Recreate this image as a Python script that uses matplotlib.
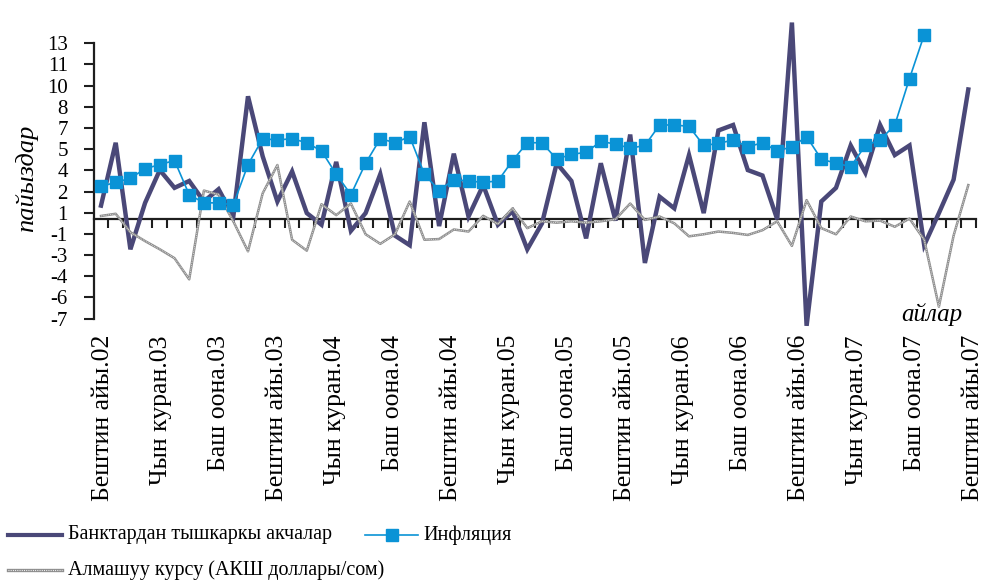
import numpy as np
import matplotlib
matplotlib.use("Agg")
import matplotlib.pyplot as plt
import matplotlib.transforms as mtransforms
from matplotlib.lines import Line2D

plt.rcParams['font.family'] = ['Liberation Serif', 'DejaVu Serif']

# labels on the month axis (every 4th month, Dec 2002 .. Dec 2007)
month_labels = [
    "Бештин айы.02", "Чын куран.03", "Баш оона.03", "Бештин айы.03",
    "Чын куран.04", "Баш оона.04", "Бештин айы.04", "Чын куран.05",
    "Баш оона.05", "Бештин айы.05", "Чын куран.06", "Баш оона.06",
    "Бештин айы.06", "Чын куран.07", "Баш оона.07", "Бештин айы.07",
]

# y axis as printed in the source (odd rounding kept)
ytick_vals = 0.48 + 1.55 * np.arange(-5, 9)
ytick_labels = ["-7", "-6", "-4", "-3", "-1", "1", "2", "4", "5", "7",
                "8", "10", "11", "13"]

# monthly values, %
money_outside_banks = [
    1.0, 5.6, -2.2, 1.2, 3.6, 2.3, 2.8, 1.3, 2.2, 0.2, 9.0, 4.6,
    1.3, 3.5, 0.45, -0.4, 4.2, -0.85, 0.45, 3.3, -1.2, -1.9, 7.1, -0.5,
    4.8, 0.2, 2.5, -0.4, 0.6, -2.2, -0.3, 4.1, 2.8, -1.4, 4.1, -0.1,
    6.2, -3.2, 1.65, 0.8, 4.7, 0.45, 6.5, 6.9, 3.6, 3.2, 0.0, 14.4,
    -7.8, 1.3, 2.3, 5.4, 3.4, 6.9, 4.7, 5.4, -1.9, 0.45, 2.9, 9.5,
]
inflation = [
    2.4, 2.7, 3.0, 3.7, 4.0, 4.3, 1.8, 1.2, 1.2, 1.05, 4.0, 5.9,
    5.8, 5.9, 5.6, 5.0, 3.3, 1.8, 4.1, 5.9, 5.6, 6.05, 3.3, 2.1,
    2.9, 2.8, 2.7, 2.8, 4.3, 5.6, 5.6, 4.4, 4.75, 4.9, 5.7, 5.5,
    5.2, 5.4, 6.9, 6.9, 6.8, 5.4, 5.55, 5.8, 5.3, 5.6, 5.0, 5.3,
    6.05, 4.4, 4.1, 3.85, 5.4, 5.8, 6.9, 10.3, 13.5,
]
exchange_rate = [
    0.24, 0.4, -0.95, -1.6, -2.2, -2.85, -4.4, 2.1, 1.8, -0.15, -2.35, 1.9,
    3.97, -1.5, -2.3, 1.1, 0.3, 1.15, -1.1, -1.8, -1.1, 1.3, -1.5, -1.45,
    -0.75, -0.9, 0.25, -0.35, 0.8, -0.65, -0.15, -0.25, -0.15, -0.25, -0.15, 0.0,
    1.15, -0.05, 0.2, -0.3, -1.25, -1.1, -0.9, -1.0, -1.15, -0.8, -0.15, -1.95,
    1.4, -0.65, -1.1, 0.2, -0.15, -0.1, -0.55, 0.05, -1.5, -6.4, -1.2, 2.5,
]

labels = ["Банктардан тышкаркы акчалар", "Инфляция",
          "Алмашуу курсу (АКШ доллары/сом)"]

DARK = '#4a4878'
BLUE = '#0a93d6'
GREY = '#8e8e8e'
AXC = '#1e1e1e'

W, H = 983, 581
fig = plt.figure(figsize=(W / 100, H / 100), dpi=100)
ax = fig.add_axes([93.65 / W, 1 - 340 / H, 882 / W, 340 / H])
ax.patch.set_alpha(0)

n = len(money_outside_banks)
x = np.arange(n)

ax.plot(x, money_outside_banks, color=DARK, lw=3.2,
        solid_joinstyle='miter', zorder=3)
ax.plot(x, exchange_rate, color=GREY, lw=1.8, zorder=4)
ax.plot(x, exchange_rate, color='white', lw=0.6, dashes=(0.8, 1.4), zorder=4)
ax.plot(np.arange(len(inflation)), inflation, color=BLUE, lw=1.2,
        marker='s', ms=8, mec=BLUE, mfc=BLUE, zorder=5)

ax.set_xlim(-0.5, n - 0.5)
ax.set_ylim(-8.84, 16.05)

for s in ('top', 'right'):
    ax.spines[s].set_visible(False)
ax.spines['bottom'].set_position(('data', 0))
ax.spines['bottom'].set_bounds(-0.5, n - 0.5)
ax.spines['left'].set_bounds(ytick_vals[0], ytick_vals[-1])
for s in ('bottom', 'left'):
    ax.spines[s].set_linewidth(1.6)
    ax.spines[s].set_color(AXC)

ax.set_xticks(np.arange(0.5, n, 1))
ax.set_xticklabels([])
ax.tick_params(axis='x', direction='out', length=6.5, width=1.5, color=AXC)
ax.set_yticks(ytick_vals)
ax.set_yticklabels(ytick_labels)
ax.tick_params(axis='y', direction='out', length=7.5, width=1.5, color=AXC,
               pad=11, labelsize=15)

trans = mtransforms.blended_transform_factory(ax.transData, ax.transAxes)
for k, lab in enumerate(month_labels):
    ax.text(0.14 + 3.946 * k, 0.0147, lab, rotation=90, ha='center',
            va='top', fontsize=18.5, transform=trans)

ax.text(56.5, -7.44, "айлар", style='italic', fontsize=18, ha='center',
        va='baseline', zorder=6)
fig.text(27 / W, 1 - 178 / H, "пайыздар", rotation=90, style='italic',
         fontsize=19, ha='center', va='center')


# legend, drawn by hand to match the source layout
def fx(px):
    return px / W


def fy(py):
    return 1 - py / H


fig.add_artist(Line2D([fx(8), fx(62)], [fy(535)] * 2, color=DARK, lw=3.0,
                      transform=fig.transFigure))
fig.text(fx(68), fy(535), labels[0], va='center', fontsize=14.5)
fig.add_artist(Line2D([fx(365), fx(392), fx(418)], [fy(535)] * 3, color=BLUE,
                      lw=1.2, marker='s', ms=8, markevery=[1],
                      transform=fig.transFigure))
fig.text(fx(423), fy(535), labels[1], va='center', fontsize=14.5)
fig.add_artist(Line2D([fx(8), fx(62)], [fy(570)] * 2, color=GREY, lw=2.4,
                      transform=fig.transFigure))
fig.add_artist(Line2D([fx(8), fx(62)], [fy(570)] * 2, color='white', lw=0.8,
                      dashes=(0.8, 1.2), transform=fig.transFigure))
fig.text(fx(68), fy(570), labels[2], va='center', fontsize=14.5)

fig.savefig("out.png", dpi=100)
